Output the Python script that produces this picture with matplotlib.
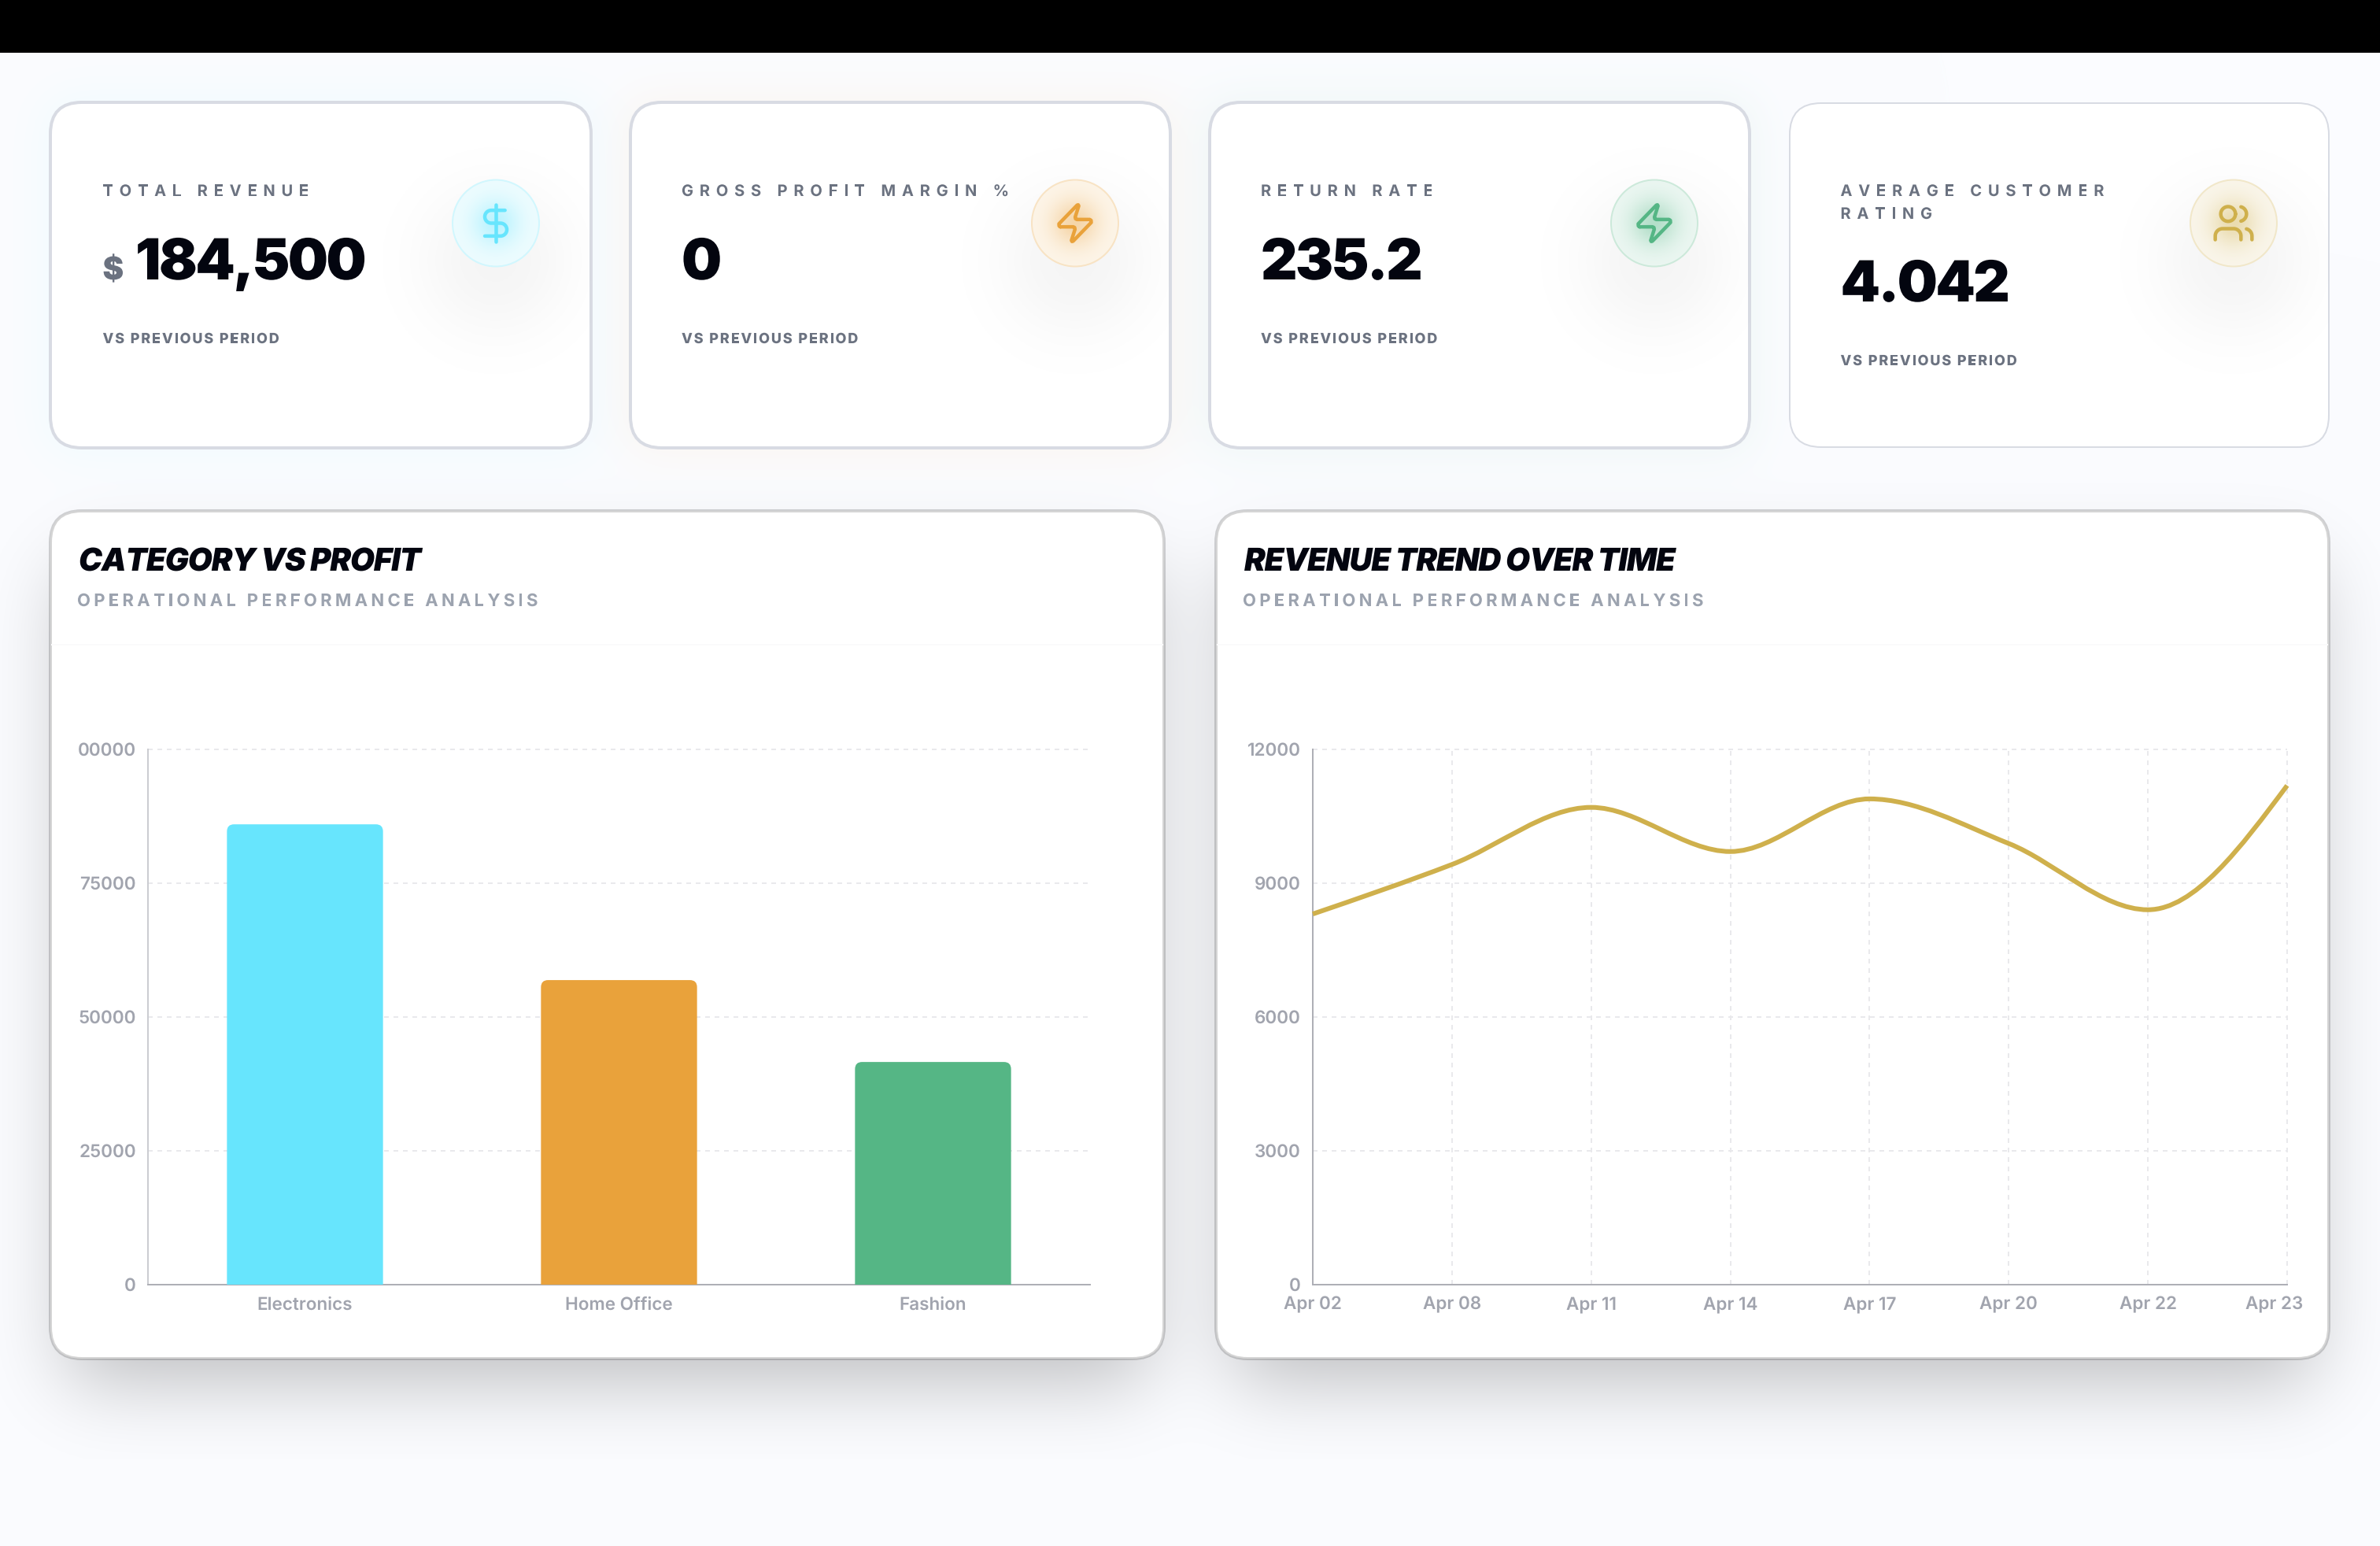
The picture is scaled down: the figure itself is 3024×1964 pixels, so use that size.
import math
import numpy as np
import matplotlib
matplotlib.use('Agg')
import matplotlib.pyplot as plt
from matplotlib import font_manager as fm
from matplotlib.colors import to_rgb
from matplotlib.font_manager import FontProperties
from matplotlib.ft2font import LoadFlags
from matplotlib.patches import Circle, FancyBboxPatch, PathPatch
from matplotlib.path import Path
from matplotlib.text import Text
from matplotlib.textpath import TextPath
from matplotlib.transforms import Affine2D, Bbox, IdentityTransform, ScaledTranslation

W, H = 3024, 1964
DPI = 100

# kpi cards
kpi_labels = [['TOTAL REVENUE'], ['GROSS PROFIT MARGIN %'], ['RETURN RATE'], ['AVERAGE CUSTOMER', 'RATING']]
kpi_values = ['184,500', '0', '235.2', '4.042']
kpi_note = 'VS PREVIOUS PERIOD'
kpi_colors = ['#67E5FD', '#E9A23B', '#55B685', '#CFB04C']

# bar chart
categories = ['Electronics', 'Home Office', 'Fashion']
profit = [86000, 56900, 41600]
bar_colors = ['#67E5FD', '#E9A23B', '#55B685']
profit_ticks = [0, 25000, 50000, 75000, 100000]
profit_tick_labels = ['0', '25000', '50000', '75000', '00000']

# line chart
dates = ['Apr 02', 'Apr 08', 'Apr 11', 'Apr 14', 'Apr 17', 'Apr 20', 'Apr 22', 'Apr 23']
revenue = [8310, 9420, 10700, 9710, 10890, 9890, 8405, 11190]
revenue_ticks = [0, 3000, 6000, 9000, 12000]

INK = '#03050F'
GRAY = '#6B7280'
MUTED = '#9CA3AF'
TICK = '#A1A4AE'
LABEL_PX = 22.5


def inter(weight, style='normal'):
    return FontProperties(family='Inter', weight=weight, style=style)


class TrackedText(Text):
    # browser style letter spacing, still one text object holding the whole string
    def __init__(self, x, y, s, tracking=0.0, **kw):
        super().__init__(x, y, s, **kw)
        self.tracking = tracking

    def advances(self):
        prop = self.get_fontproperties()
        px = prop.get_size_in_points() * DPI / 72
        font = fm.get_font(fm.findfont(prop))
        font.set_size(px, 72)
        out = []
        for ch in self.get_text():
            g = font.load_char(ord(ch), flags=LoadFlags.NO_HINTING)
            out.append(g.linearHoriAdvance / 65536 + self.tracking)
        return px, out

    def get_window_extent(self, renderer=None, dpi=None):
        x0, y0 = self.get_transform().transform(self.get_unitless_position())
        px, adv = self.advances()
        return Bbox.from_extents(x0, y0 - 0.2 * px, x0 + sum(adv), y0 + 0.8 * px)

    def draw(self, renderer):
        x0, y0 = self.get_transform().transform(self.get_unitless_position())
        prop = self.get_fontproperties()
        px, adv = self.advances()
        gc = renderer.new_gc()
        gc.set_linewidth(0)
        face = to_rgb(self.get_color())
        pen = x0
        for ch, a in zip(self.get_text(), adv):
            if ch != ' ':
                glyph = TextPath((0, 0), ch, size=px, prop=prop)
                renderer.draw_path(gc, glyph, Affine2D().translate(pen, y0), face)
            pen += a
        gc.restore()


def put_text(ax, x, y, s, size, weight, color, tracking=0.0, style='normal'):
    prop = inter(weight, style)
    prop.set_size(size * 72 / DPI)
    t = TrackedText(x, y, s, tracking=tracking, color=color, fontproperties=prop,
                    transform=ax.transData, zorder=8)
    ax.add_artist(t)
    return t


def soft_box(size, a, b, sigma):
    # blurred edge profile of the span a..b
    u = np.arange(size) + 0.5
    erf = np.vectorize(math.erf)
    return 0.5 * (erf((u - a) / (sigma * 2 ** 0.5)) - erf((u - b) / (sigma * 2 ** 0.5)))


def add_shadow(img, box, color, alpha, sigma, dy=0, spread=0):
    x0, y0, x1, y1 = box
    ax_ = soft_box(W, x0 - spread, x1 + spread, sigma)
    ay_ = soft_box(H, y0 + dy - spread, y1 + dy + spread, sigma)
    a = (alpha * np.outer(ay_, ax_))[..., None]
    img[:] = img * (1 - a) + np.array(to_rgb(color)) * a


def rounded(box, radius, lw, edge, face='white', z=2):
    x0, y0, x1, y1 = box
    # the stroke sits inside the box edge
    p = FancyBboxPatch((x0 + lw / 2, y0 + lw / 2), x1 - x0 - lw, y1 - y0 - lw,
                       boxstyle=f'round,pad=0,rounding_size={radius}',
                       fc=face, ec=edge, lw=lw * 72 / DPI, zorder=z)
    page.add_patch(p)
    return p


def arc(cx, cy, r, a0, a1, n=24):
    t = np.radians(np.linspace(a0, a1, n))
    return list(zip(cx + r * np.cos(t), cy + r * np.sin(t)))


# lucide style icons on a 24 unit grid
ICONS = {
    'dollar': [
        [(12, 2), (12, 22)],
        [(17, 5)] + arc(9.5, 8.5, 3.5, -90, -270) + arc(14.5, 15.5, 3.5, -90, 90) + [(6, 19)],
    ],
    'zap': [
        [(4, 14), (3.3, 13.5), (3.22, 12.37), (13.12, 2.17), (13.7, 2.05), (13.98, 2.63), (12.06, 8.65),
         (12.25, 9.6), (13, 10), (20, 10), (20.7, 10.5), (20.78, 11.63), (10.88, 21.83), (10.3, 21.95),
         (10.02, 21.37), (11.94, 15.35), (11.75, 14.4), (11, 14), (4, 14)],
    ],
    'users': [
        [(16, 21), (16, 19)] + arc(12, 19, 4, 0, -90) + arc(6, 19, 4, -90, -180) + [(2, 21)],
        arc(9, 7, 4, 0, 360, 48),
        [(22, 21), (22, 19)] + arc(18, 19, 4, 0, -75.5, 10),
        arc(15, 7, 4, -75.5, 75.5, 20),
    ],
}


def draw_icon(name, cx, cy, color, card):
    # wide soft shadow dropping below the badge
    gx = np.arange(cx - 240, cx + 240) + 0.5
    gy = np.arange(cy - 200, cy + 300) + 0.5
    xx, yy = np.meshgrid(gx, gy)
    r = np.hypot(xx - cx, yy - (cy + 48))
    rgba = np.zeros(r.shape + (4,))
    rgba[..., 3] = 0.04 * np.exp(-np.maximum(r - 15, 0) ** 2 / (2 * 60.0 ** 2))
    im = page.imshow(rgba, extent=(gx[0] - .5, gx[-1] + .5, gy[-1] + .5, gy[0] - .5),
                     zorder=3, aspect='auto', interpolation='bilinear')
    im.set_clip_path(card)

    rgb = np.array(to_rgb(color))
    fill = rgb * 0.11 + 0.89
    edge = rgb * 0.3 + 0.7
    badge = Circle((cx, cy), 55, fc=fill, ec=edge, lw=2 * 72 / DPI, zorder=4)
    page.add_patch(badge)

    r = np.hypot(xx - cx, yy - cy)
    rgba = np.zeros(r.shape + (4,))
    rgba[..., :3] = rgb
    rgba[..., 3] = 0.37 * np.exp(-r ** 2 / (2 * 21.0 ** 2))
    im = page.imshow(rgba, extent=(gx[0] - .5, gx[-1] + .5, gy[-1] + .5, gy[0] - .5),
                     zorder=5, aspect='auto', interpolation='bilinear')
    im.set_clip_path(Circle((cx, cy), 54, transform=page.transData))

    unit = 56 / 24
    for stroke in ICONS[name]:
        pts = np.array(stroke)
        page.plot(cx + (pts[:, 0] - 12) * unit, cy + (pts[:, 1] - 12) * unit, color=color,
                  lw=4.5 * 72 / DPI, solid_capstyle='round', solid_joinstyle='round', zorder=6)


def monotone_path(x, y):
    # monotone cubic through the points, flat at local extremes
    x = np.asarray(x, float)
    y = np.asarray(y, float)
    h = np.diff(x)
    s = np.diff(y) / h
    t = np.zeros(len(x))
    for i in range(1, len(x) - 1):
        p = (s[i - 1] * h[i] + s[i] * h[i - 1]) / (h[i - 1] + h[i])
        t[i] = (np.sign(s[i - 1]) + np.sign(s[i])) * min(abs(s[i - 1]), abs(s[i]), 0.5 * abs(p))
    t[0] = (3 * s[0] - t[1]) / 2
    t[-1] = (3 * s[-1] - t[-2]) / 2
    verts = [(x[0], y[0])]
    codes = [Path.MOVETO]
    for i in range(len(x) - 1):
        dx = h[i] / 3
        verts += [(x[i] + dx, y[i] + dx * t[i]), (x[i + 1] - dx, y[i + 1] - dx * t[i + 1]), (x[i + 1], y[i + 1])]
        codes += [Path.CURVE4] * 3
    return Path(verts, codes)


def chart_axes(x0, x1, y0=952, y1=1632):
    a = fig.add_axes([x0 / W, 1 - y1 / H, (x1 - x0) / W, (y1 - y0) / H])
    a.patch.set_alpha(0)
    for side in ('top', 'right'):
        a.spines[side].set_visible(False)
    for side in ('left', 'bottom'):
        a.spines[side].set_color('#AEAFB6')
        a.spines[side].set_linewidth(2 * 72 / DPI)
    a.tick_params(length=0, colors=TICK, labelsize=LABEL_PX * 72 / DPI)
    a.tick_params(axis='y', pad=15 * 72 / DPI)
    a.tick_params(axis='x', pad=15 * 72 / DPI)
    a.set_axisbelow(True)
    return a


def style_labels(a):
    for lab in a.get_xticklabels() + a.get_yticklabels():
        lab.set_fontproperties(inter(600))
        lab.set_fontsize(LABEL_PX * 72 / DPI)
        lab.set_color(TICK)


plt.rcParams['font.family'] = ['Inter', 'DejaVu Sans']
plt.rcParams['text.hinting'] = 'no_hinting'
plt.rcParams['text.hinting_factor'] = 1

fig = plt.figure(figsize=(W / DPI, H / DPI), dpi=DPI, facecolor='#FBFCFF')
page = fig.add_axes([0, 0, 1, 1])
page.axis('off')

card_boxes = [(62, 128, 753, 571), (799, 128, 1489, 571), (1535, 128, 2225, 571), (2273, 130, 2960, 569)]
panel_boxes = [(62, 647, 1481, 1728), (1543, 647, 2961, 1728)]

# page background with the coloured halos and the panel shadows baked in
img = np.ones((H, W, 3)) * np.array(to_rgb('#FBFCFF'))
for box, col in zip(card_boxes[:3], kpi_colors[:3]):
    add_shadow(img, box, col, 0.085, 32)
for box in panel_boxes:
    add_shadow(img, box, '#000000', 0.25, 50, dy=50, spread=-24)
img[1853:, :] = np.maximum(img[1853:, :], np.array(to_rgb('#FAFBFE')))
img[:67, :] = 0
page.imshow(img, extent=(0, W, H, 0), aspect='auto', interpolation='nearest', zorder=0)

# kpi cards
icon_names = ['dollar', 'zap', 'zap', 'users']
text_x = [130.5, 866, 1602, 2338.5]
icon_x = [630, 1366, 2102, 2838]
for i, box in enumerate(card_boxes):
    last = i == 3
    card = rounded(box, 40, 2 if last else 4, '#D8DBE3')
    for j, line in enumerate(kpi_labels[i]):
        put_text(page, text_x[i], 249 + 29 * j, line, 20, 700, GRAY, tracking=7.85)
    base = 383 if last else 355
    note = 464 if last else 436
    if i == 0:
        put_text(page, text_x[i], base, '$', 40, 900, GRAY)
        put_text(page, 172, base, kpi_values[i], 72, 900, INK, tracking=-2.6)
    else:
        put_text(page, text_x[i], base, kpi_values[i], 72, 900, INK, tracking=-2.6)
    put_text(page, text_x[i], note, kpi_note, 18, 800, GRAY, tracking=1.85)
    draw_icon(icon_names[i], icon_x[i], 283.5, kpi_colors[i], card)

# chart panels
titles = ['CATEGORY VS PROFIT', 'REVENUE TREND OVER TIME']
for i, box in enumerate(panel_boxes):
    rounded(box, 40, 4, '#0000002A')
    page.plot([box[0] + 4, box[2] - 4], [819, 819], color='#FAFAFB', lw=2 * 72 / DPI, zorder=3)
    tx = box[0] + 38
    put_text(page, tx, 725, titles[i], 40, 900, INK, tracking=-1.1, style='italic')
    put_text(page, tx - 2, 770, 'OPERATIONAL PERFORMANCE ANALYSIS', 22, 700, MUTED, tracking=4.3)

page.set_xlim(0, W)
page.set_ylim(H, 0)

GRID = dict(color='#E9E9EC', linewidth=2 * 72 / DPI, linestyle=(0, (3, 3)), clip_on=False)

# category vs profit
ax1 = chart_axes(188, 1385)
ax1.spines['left'].set_color('#CBCCD1')
xpos = np.arange(len(categories)) + 0.5
bars = ax1.bar(xpos, profit, width=0.497, color=bar_colors, zorder=3)
ax1.set_xlim(0, 3)
ax1.set_ylim(0, 100000)
ax1.set_xticks(xpos, categories)
ax1.set_yticks(profit_ticks, profit_tick_labels)
ax1.grid(axis='y', **GRID)
style_labels(ax1)

# round the top corners of each bar, in screen pixels
fig.canvas.draw()
for b in bars:
    ext = b.get_window_extent()
    clip = FancyBboxPatch((ext.x0, ext.y0 - 30), ext.width, ext.height + 30,
                          boxstyle='round,pad=0,rounding_size=9', transform=IdentityTransform())
    b.set_clip_path(clip)

# revenue trend
ax2 = chart_axes(1668, 2906)
ax2.set_xlim(0, len(dates) - 1)
ax2.set_ylim(0, 12000)
ax2.set_xticks(range(len(dates)), dates)
ax2.set_yticks(revenue_ticks)
ax2.grid(axis='both', **GRID)
ax2.add_patch(PathPatch(monotone_path(range(len(dates)), revenue), fill=False, ec='#CFB04C',
                        lw=6 * 72 / DPI, capstyle='butt', joinstyle='round', zorder=4, clip_on=False))
style_labels(ax2)
end_label = ax2.get_xticklabels()[-1]
end_label.set_transform(end_label.get_transform() + ScaledTranslation(-16 / DPI, 0, fig.dpi_scale_trans))

fig.savefig('out.png', dpi=DPI, facecolor=fig.get_facecolor())
